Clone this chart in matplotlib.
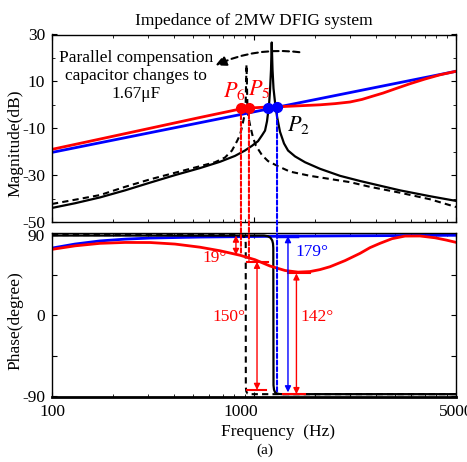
import matplotlib
matplotlib.use("Agg")
import matplotlib.pyplot as plt
from matplotlib.patches import ConnectionPatch

plt.rcParams['font.family'] = 'serif'
plt.rcParams['font.serif'] = ['Liberation Serif', 'DejaVu Serif']
plt.rcParams['mathtext.fontset'] = 'stix'
plt.rcParams['axes.unicode_minus'] = False

# magnitude (dB)
f_mag_solid = [100, 130, 173, 230, 306, 406, 540, 679, 805, 902, 977, 1047, 1096, 1134, 1160, 1187, 1200, 1214, 1224,
               1235, 1249, 1271, 1300, 1345, 1408, 1474, 1596, 1789, 2122, 2666, 3348, 4205, 5283, 7434, 10000]
mag_solid = [-44, -42, -39.5, -36.5, -33.2, -30, -27, -24.3, -21.8, -19.5, -17.5, -15.5, -13, -11, -7, 0, 6, 15, 26.6,
             15, 7, 1, -5, -11.5, -16.5, -19.5, -22, -24.5, -27.3, -30.3, -32.5, -34.5, -36.5, -39, -41]

f_mag_dash = [100, 130, 173, 230, 306, 406, 540, 641, 718, 778, 824, 853, 872, 892, 908, 918, 929, 955, 989, 1023,
              1096, 1173, 1315, 1507, 1893, 2987, 3752, 5283, 7434, 10000]
mag_dash = [-42.3, -40.5, -38.5, -35, -31.8, -29, -26.2, -24.5, -22.5, -19.5, -15.5, -12.8, -9.5, -5.5, -2, 17.2, -3,
            -8.5, -14, -17.5, -21.5, -24, -26.2, -28.5, -30.3, -33, -35, -37.5, -40.3, -43.6]

f_mag_red = [100, 173, 306, 540, 761, 853, 955, 1134, 1345, 1690, 2122, 2518, 2987, 3425, 3838, 4351, 4989, 5920,
             7024, 8332, 10000]
mag_red = [-19.0, -14.6, -10.0, -5.4, -2.7, -1.8, -1.35, -1.0, -0.8, -0.4, 0.0, 0.5, 1.2, 2.3, 3.6, 5.0, 6.8, 9.0,
           11.0, 12.8, 14.3]

f_mag_blue = [100, 1000, 10000]
mag_blue = [-20.3, -3.0, 14.3]

# phase (degree)
f_ph_red = [100, 130, 173, 230, 306, 406, 540, 679, 853, 1012, 1200, 1424, 1651, 1893, 2122, 2378, 2821, 3348, 3752,
            4205, 4823, 5592, 6634, 7870, 8925, 10000]
ph_red = [73.6, 77.5, 80.3, 81.3, 81.2, 79.5, 76, 72, 67, 62, 55, 50, 48.2, 48.8, 51, 54.2, 61, 69.1, 75.5,
          80.3, 85.5, 88.4, 88.5, 86.5, 84, 81.4]

f_ph_blue = [100, 130, 173, 230, 306, 540, 1200, 2987, 10000]
ph_blue = [75, 79.5, 83, 85, 86.2, 87.3, 88.1, 88.7, 89.3]

f_ph_solid = [100, 1121, 1173, 1207, 1231, 1242, 1246, 1249, 1256, 1271, 1293, 1330, 1376, 10000]
ph_solid = [89, 89, 88.2, 86.5, 83.5, 80, 75, -78, -83, -85.8, -87, -87.8, -88, -88]

f_ph_dash = [100, 853, 882, 897, 907, 910, 911, 916, 929, 955, 10000]
ph_dash = [89.5, 89.5, 88.8, 87, 84, 80, -80, -85, -87.3, -88, -88]

# marked points: frequency, magnitude, phase where the drop line ends
p_red = [(862, -1.5, 67.3), (944, -1.3, 59.8)]
p_blue = [(1174, -1.2, None), (1300, -1.0, -85)]

W, H = 467, 462
fig = plt.figure(figsize=(W / 100, H / 100), dpi=100)
ax1 = fig.add_axes([52 / W, 1 - 222 / H, 404 / W, 187.5 / H])
ax2 = fig.add_axes([52 / W, 1 - 397.3 / H, 404 / W, 164 / H])

red = '#ff0000'
blue = '#0000ff'
dash = (0, (3, 2))

ax1.plot(f_mag_solid, mag_solid, color='black', lw=1.6)
ax1.plot(f_mag_dash, mag_dash, color='black', lw=1.5, linestyle=dash)
ax1.plot(f_mag_blue, mag_blue, color=blue, lw=2)
ax1.plot(f_mag_red, mag_red, color=red, lw=2)
ax1.plot([p[0] for p in p_red], [p[1] for p in p_red], 'o', color=red, ms=7)
ax1.plot([p[0] for p in p_blue], [p[1] for p in p_blue], 'o', color=blue, ms=7)

ax2.plot(f_ph_blue, ph_blue, color=blue, lw=2)
ax2.plot(f_ph_solid, ph_solid, color='black', lw=1.6)
ax2.plot(f_ph_dash, ph_dash, color='black', lw=1.5, linestyle=dash)
ax2.plot(f_ph_red, ph_red, color=red, lw=2)

# dashed drops from the marked points into the phase plot
for fx, m, ph in [p_red[0], p_red[1]]:
    con = ConnectionPatch(xyA=(fx, m), coordsA=ax1.transData, xyB=(fx, ph), coordsB=ax2.transData,
                          color=red, lw=1.5, linestyle=(0, (2, 1.2)))
    fig.add_artist(con)
con = ConnectionPatch(xyA=(p_blue[1][0], p_blue[1][1]), coordsA=ax1.transData,
                      xyB=(p_blue[1][0], p_blue[1][2]), coordsB=ax2.transData,
                      color=blue, lw=1.5, linestyle=(0, (2, 1.2)))
fig.add_artist(con)

for ax in (ax1, ax2):
    ax.set_xscale('log')
    ax.set_xlim(100, 10000)
    ax.tick_params(which='both', direction='in', top=True, right=True, labelsize=12.5, pad=5)
    for s in ax.spines.values():
        s.set_linewidth(1.0)

ax1.set_ylim(-50, 30)
ax1.set_yticks([30, 10, -10, -30, -50])
ax1.set_yticks([20, 0, -20, -40], minor=True)
ax1.tick_params(labelbottom=False)
ax1.set_ylabel('Magnitude(dB)', fontsize=12.5)
ax1.yaxis.set_label_coords(-0.07, 0.42)
ax1.set_title('Impedance of 2MW DFIG system', fontsize=12.5, pad=7)

ax2.set_ylim(-91.5, 91.5)
ax2.set_yticks([90, 45, 0, -45, -90])
ax2.set_yticklabels(['90', '', '0', '', '-90'])
ax2.set_xticks([100, 1000, 10000])
ax2.set_xticklabels(['100', '', '5000'])
ax2.set_ylabel('Phase(degree)', fontsize=12.5)
ax2.yaxis.set_label_coords(-0.07, 0.47)
ax2.spines['bottom'].set_linewidth(2)
ax2.annotate('1000', xy=(861, 0), xycoords=('data', 'axes fraction'), xytext=(0, -5),
             textcoords='offset points', ha='center', va='top', fontsize=12.5)

# magnitude annotations
ax1.text(136 / W, 1 - 76 / H, 'Parallel compensation\ncapacitor changes to\n1.67\u03bcF',
         transform=fig.transFigure, ha='center', va='center', fontsize=12.5, linespacing=1.2)
ax1.annotate('', xy=(626, 16.3), xytext=(1731, 22.3),
             arrowprops=dict(arrowstyle='-|>', color='black', lw=1.5, linestyle=(0, (3, 2)),
                             connectionstyle='arc3,rad=0.15', mutation_scale=16))
ax1.text(700, 3.5, '$P_6$', color=red, fontsize=16)
ax1.text(930, 4, '$P_5$', color=red, fontsize=16)
ax1.text(1450, -11, '$P_2$', color='black', fontsize=16)

# phase annotations
arr = dict(arrowstyle='<|-|>', lw=1, shrinkA=0, shrinkB=0, mutation_scale=9)
ax2.annotate('', xy=(814, 89), xytext=(814, 67.3), arrowprops=dict(arr, color=red))
ax2.text(641, 63.9, '19\u00b0', color=red, fontsize=12.5, ha='center', va='center')

ax2.plot([922, 1174], [59.8, 59.8], color=red, lw=1.5)
ax2.plot([922, 1150], [-83.3, -83.3], color=red, lw=1.5)
ax2.annotate('', xy=(1035, 59.8), xytext=(1035, -83.3), arrowprops=dict(arr, color=red))
ax2.text(752, -1.9, '150\u00b0', color=red, fontsize=12.5, ha='center', va='center')

ax2.plot([1473, 1893], [46.8, 46.8], color=red, lw=1.5)
ax2.plot([1390, 1790], [-88, -88], color=red, lw=1.5)
ax2.annotate('', xy=(1622, 46.8), xytext=(1622, -88), arrowprops=dict(arr, color=red))
ax2.text(2064, -1.9, '142\u00b0', color=red, fontsize=12.5, ha='center', va='center')

ax2.plot([1315, 1633], [88.6, 88.6], color=blue, lw=2.5)
ax2.annotate('', xy=(1473, 88.4), xytext=(1473, -86), arrowprops=dict(arr, color=blue))
ax2.text(1940, 70.6, '179\u00b0', color=blue, fontsize=12.5, ha='center', va='center')

fig.text(278 / W, 1 - 432 / H, 'Frequency  (Hz)', ha='center', va='center', fontsize=12.5)
fig.text(265 / W, 1 - 450 / H, '(a)', ha='center', va='center', fontsize=11)

fig.savefig('out.png', dpi=100)
